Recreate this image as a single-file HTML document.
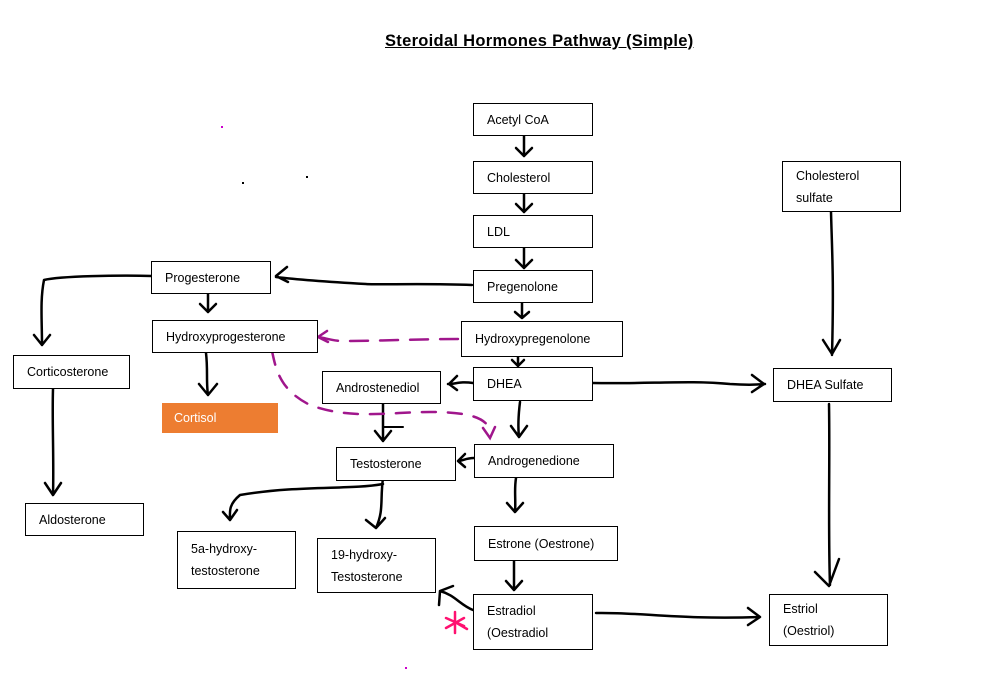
<!DOCTYPE html>
<html><head><style>
body{margin:0;width:1002px;height:675px;background:#fff;position:relative;overflow:hidden;font-family:"Liberation Sans",sans-serif;}
.b{position:absolute;border:1px solid #000;box-sizing:border-box;font-size:12.5px;color:#000;padding-left:13px;display:flex;align-items:center;line-height:22px;background:#fff}
svg{position:absolute;left:0;top:0}
</style></head><body>
<div style="position:absolute;left:385px;top:32px;font-size:16.5px;letter-spacing:0.3px;font-weight:bold;text-decoration:underline">Steroidal Hormones Pathway (Simple)</div>
<svg width="1002" height="675" fill="none" stroke="#000" stroke-width="2.5" stroke-linecap="round" stroke-linejoin="round">
<path d="M524 136V156M516 148l8 8 8-8"/>
<path d="M524 194V212M516 204l8 8 8-8"/>
<path d="M524 248V268M516 260l8 8 8-8"/>
<path d="M522 303V318M515 312l7 6 7-6"/>
<path d="M518 357V366M512 360l6 6 6-6"/>
<path d="M472 285C420 283 380 285 366 284C330 282 300 280 276 277M287 267l-11 9 12 6"/>
<path d="M152 276C120 275 60 276 44 280C40 300 42 320 42 345M34 335l8 10 8-10"/>
<path d="M208 294V312M200 304l8 8 8-8"/>
<path d="M206 353C208 370 206 382 208 395M199 384l9 11 9-11"/>
<path d="M53 389C52 420 54 460 53 495M45 483l8 12 8-12"/>
<path d="M473 383C460 381 456 384 448 384M457 376l-8 8 8 6"/>
<path d="M520 402C518 418 518 428 519 437M511 426l8 11 8-11"/>
<path d="M383 404V441M375 431l8 10 8-10"/>
<path d="M474 458C466 458 462 461 458 461M465 454l-7 7 7 6"/>
<path d="M516 478C514 490 516 500 515 512M507 503l8 9 8-9"/>
<path d="M514 561V590M506 581l8 9 8-9"/>
<path d="M593 383C650 384 690 380 730 384C745 385 755 385 765 384M752 375l12 9-12 8"/>
<path d="M831 212C832 250 834 280 832 355M823 340l9 14 8-14"/>
<path d="M829 404C830 460 828 530 830 585M815 572l14 14 10-27"/>
<path d="M596 613C640 612 680 620 760 617M748 608l12 9-12 8"/>
<path d="M473 610C460 605 455 595 440 591M439 605l1-14 13-5"/>
<path d="M383 478C380 500 384 510 376 528M366 520l10 8 9-10"/>
<path d="M383 484C350 490 300 485 240 495C228 505 230 512 230 520M223 512l7 8 7-10"/>
<path d="M383 427H403" stroke-width="2"/>
</svg>
<svg width="1002" height="675" fill="none" stroke="#a0168c" stroke-width="2.5" stroke-linecap="round">
<path d="M458 339C420 339 380 341 340 341C330 340 325 338 318 337" stroke-dasharray="18 12"/>
<path d="M318 337l9-6M318 337l10 5"/>
<path d="M272 351C276 370 280 390 310 405C350 420 390 412 430 412C470 412 488 418 490 432" stroke-dasharray="14 12"/>
<path d="M483 428l7 10 5-11"/>
</svg>
<svg width="1002" height="675" stroke="#ff1070" stroke-width="2.5" stroke-linecap="round">
<path d="M455 612V633M446 618l18 8M446 628l18-10M455 622l12 7"/>
</svg>
<div style="position:absolute;left:221px;top:126px;width:2px;height:2px;background:#c0c"></div>
<div style="position:absolute;left:242px;top:182px;width:2px;height:2px;background:#000"></div>
<div style="position:absolute;left:306px;top:176px;width:2px;height:2px;background:#000"></div>
<div style="position:absolute;left:405px;top:667px;width:2px;height:2px;background:#c0c"></div>
<div style="position:absolute;left:551px;top:616px;width:2px;height:2px;background:#c0c"></div>
<div class="b" style="left:473px;top:103px;width:120px;height:33px">Acetyl CoA</div>
<div class="b" style="left:473px;top:161px;width:120px;height:33px">Cholesterol</div>
<div class="b" style="left:473px;top:215px;width:120px;height:33px">LDL</div>
<div class="b" style="left:473px;top:270px;width:120px;height:33px">Pregenolone</div>
<div class="b" style="left:461px;top:321px;width:162px;height:36px">Hydroxypregenolone</div>
<div class="b" style="left:473px;top:367px;width:120px;height:34px">DHEA</div>
<div class="b" style="left:474px;top:444px;width:140px;height:34px">Androgenedione</div>
<div class="b" style="left:474px;top:526px;width:144px;height:35px">Estrone (Oestrone)</div>
<div class="b" style="left:473px;top:594px;width:120px;height:56px">Estradiol<br>(Oestradiol</div>
<div class="b" style="left:769px;top:594px;width:119px;height:52px">Estriol<br>(Oestriol)</div>
<div class="b" style="left:773px;top:368px;width:119px;height:34px">DHEA Sulfate</div>
<div class="b" style="left:782px;top:161px;width:119px;height:51px">Cholesterol<br>sulfate</div>
<div class="b" style="left:151px;top:261px;width:120px;height:33px">Progesterone</div>
<div class="b" style="left:152px;top:320px;width:166px;height:33px">Hydroxyprogesterone</div>
<div class="b" style="left:162px;top:403px;width:116px;height:30px;background:#ed7d31;border:none;color:#fff;padding-left:12px">Cortisol</div>
<div class="b" style="left:13px;top:355px;width:117px;height:34px">Corticosterone</div>
<div class="b" style="left:25px;top:503px;width:119px;height:33px">Aldosterone</div>
<div class="b" style="left:322px;top:371px;width:119px;height:33px">Androstenediol</div>
<div class="b" style="left:336px;top:447px;width:120px;height:34px">Testosterone</div>
<div class="b" style="left:177px;top:531px;width:119px;height:58px">5a-hydroxy-<br>testosterone</div>
<div class="b" style="left:317px;top:538px;width:119px;height:55px">19-hydroxy-<br>Testosterone</div>
</body></html>
